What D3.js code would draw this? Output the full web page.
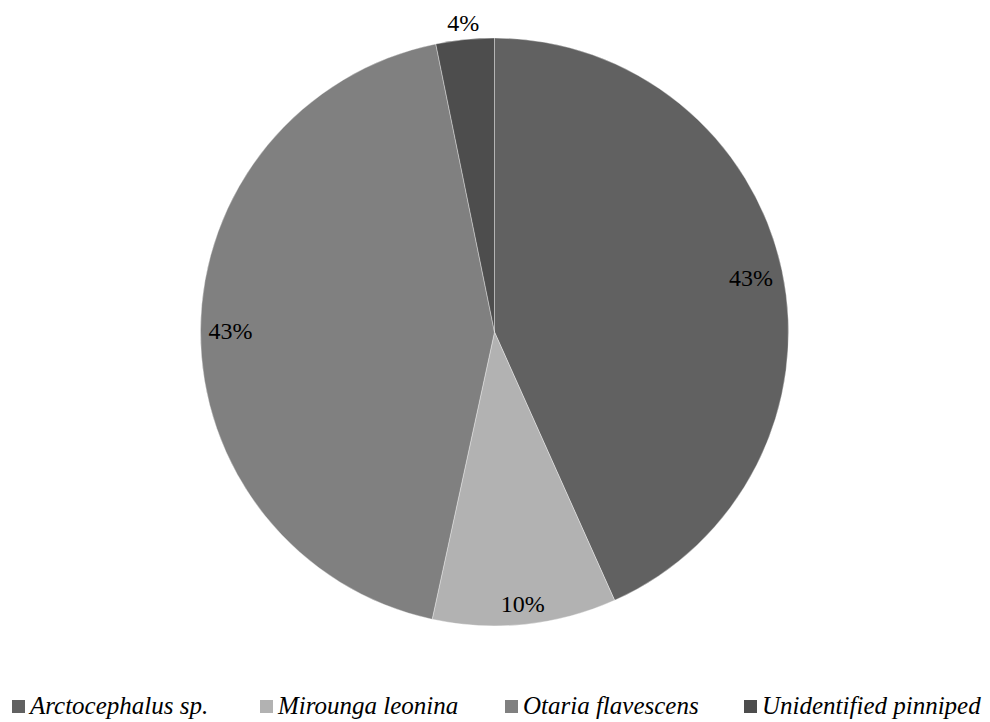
<!DOCTYPE html>
<html>
<head>
<meta charset="utf-8">
<script src="https://cdn.jsdelivr.net/npm/d3@7"></script>
<style>
  body { margin: 0; background: #fff; }
  svg { display: block; }
</style>
</head>
<body>
<svg id="chart" width="990" height="722"></svg>
<script>
var species = ["Arctocephalus sp.", "Mirounga leonina", "Otaria flavescens", "Unidentified pinniped"];
var shares = [43.3, 10.1, 43.4, 3.2];
var shareLabels = ["43%", "10%", "43%", "4%"];
var colours = ["#616161", "#b2b2b2", "#808080", "#4d4d4d"];

var serif = "Liberation Serif";
var svg = d3.select("#chart");
var cx = 494.5, cy = 332, radius = 294;

var pie = d3.pie().sort(null).value(function (d) { return d; });
var arcs = pie(shares);

var arc = d3.arc().innerRadius(0).outerRadius(radius);

var g = svg.append("g").attr("transform", "translate(" + cx + "," + cy + ")");

g.selectAll("path")
    .data(arcs)
    .enter()
  .append("path")
    .attr("d", arc)
    .attr("fill", function (d, i) { return colours[i]; })
    .attr("stroke", "#ffffff")
    .attr("stroke-opacity", 0.6)
    .attr("stroke-width", 0.6);

// labels sit just inside the rim (or just outside for thin slices), like Excel's best fit
var pad = 8, halfH = 11;
g.selectAll("text.pct")
    .data(arcs)
    .enter()
  .append("text")
    .attr("class", "pct")
    .attr("text-anchor", "middle")
    .attr("dy", "0.35em")
    .attr("font-family", serif)
    .attr("font-size", 24)
    .attr("fill", "#000")
    .text(function (d, i) { return shareLabels[i]; })
    .attr("transform", function (d) {
        var a = (d.startAngle + d.endAngle) / 2;
        var halfW = this.getBBox().width / 2;
        var ext = halfW * Math.abs(Math.sin(a)) + halfH * Math.abs(Math.cos(a));
        var small = (d.endAngle - d.startAngle) < 0.3;
        var r = small ? radius + 4 + ext : radius - pad - ext;
        return "translate(" + (r * Math.sin(a)) + "," + (-r * Math.cos(a)) + ")";
    });

// legend
var legendX = [12, 260, 505, 744];
var legend = svg.selectAll("g.legend")
    .data(species)
    .enter()
  .append("g")
    .attr("class", "legend")
    .attr("transform", function (d, i) { return "translate(" + legendX[i] + ",700)"; });

legend.append("rect")
    .attr("width", 13)
    .attr("height", 13)
    .attr("fill", function (d, i) { return colours[i]; });

legend.append("text")
    .attr("x", 18)
    .attr("y", 14)
    .attr("font-family", serif)
    .attr("font-style", "italic")
    .attr("font-size", 25)
    .attr("fill", "#000")
    .text(function (d) { return d; });
</script>
</body>
</html>
